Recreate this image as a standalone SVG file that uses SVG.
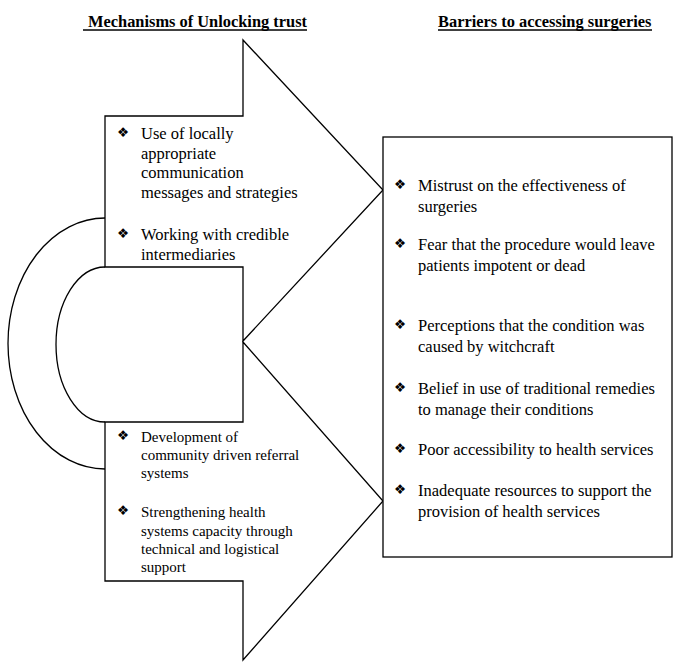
<svg xmlns="http://www.w3.org/2000/svg" width="677" height="666" viewBox="0 0 677 666">
<style>
.s{fill:none;stroke:#000;stroke-width:1.3}
.w{fill:#fff;stroke:#000;stroke-width:1.3}
.t{font-family:"Liberation Serif","Times New Roman",serif;fill:#000}
.h{font-family:"Liberation Serif","Times New Roman",serif;font-weight:bold;font-size:16.4px;fill:#000}
.a{font-size:16.5px}
.c{font-size:15px}
.b{font-family:"DejaVu Sans",sans-serif;font-size:13.5px;fill:#000}
</style>
<rect width="677" height="666" fill="#fff"/>
<g id="titles">
<text class="h" x="88" y="27">Mechanisms of Unlocking trust</text>
<line x1="83" y1="30" x2="307" y2="30" stroke="#000" stroke-width="1.3"/>
<text class="h" x="438" y="27">Barriers to accessing surgeries</text>
<line x1="438" y1="30" x2="652" y2="30" stroke="#000" stroke-width="1.3"/>
</g>
<g id="connectors">
<path class="s" d="M105,218 A97,125.5 0 0 0 105,469"/>
<path class="s" d="M105,267 A49,77.5 0 0 0 105,422"/>
</g>
<g id="arrow-upper">
<polygon class="w" points="105,116 243,116 243,40 383,190 243,341 243,267 105,267"/>
<text class="b" x="117" y="137">❖</text>
<text class="t a" x="141" y="139">Use of locally</text>
<text class="t a" x="141" y="159">appropriate</text>
<text class="t a" x="141" y="178">communication</text>
<text class="t a" x="141" y="198">messages and strategies</text>
<text class="b" x="117" y="238">❖</text>
<text class="t a" x="141" y="240">Working with credible</text>
<text class="t a" x="141" y="260">intermediaries</text>
</g>
<g id="arrow-lower">
<polygon class="w" points="105,422 243,422 243,342 383,501 243,660 243,581 105,581"/>
<text class="b" x="117" y="440">❖</text>
<text class="t c" x="141" y="442">Development of</text>
<text class="t c" x="141" y="460">community driven referral</text>
<text class="t c" x="141" y="478">systems</text>
<text class="b" x="117" y="515">❖</text>
<text class="t c" x="141" y="517">Strengthening health</text>
<text class="t c" x="141" y="536">systems capacity through</text>
<text class="t c" x="141" y="554">technical and logistical</text>
<text class="t c" x="141" y="572">support</text>
</g>
<g id="barriers">
<rect class="w" x="383" y="137" width="289" height="420"/>
<text class="b" x="394" y="189">❖</text>
<text class="t a" x="418" y="191">Mistrust on the effectiveness of</text>
<text class="t a" x="418" y="212">surgeries</text>
<text class="b" x="394" y="248">❖</text>
<text class="t a" x="418" y="250">Fear that the procedure would leave</text>
<text class="t a" x="418" y="271">patients impotent or dead</text>
<text class="b" x="394" y="329">❖</text>
<text class="t a" x="418" y="331">Perceptions that the condition was</text>
<text class="t a" x="418" y="352">caused by witchcraft</text>
<text class="b" x="394" y="392">❖</text>
<text class="t a" x="418" y="394">Belief in use of traditional remedies</text>
<text class="t a" x="418" y="415">to manage their conditions</text>
<text class="b" x="394" y="453">❖</text>
<text class="t a" x="418" y="455">Poor accessibility to health services</text>
<text class="b" x="394" y="494">❖</text>
<text class="t a" x="418" y="496">Inadequate resources to support the</text>
<text class="t a" x="418" y="517">provision of health services</text>
</g>
</svg>
